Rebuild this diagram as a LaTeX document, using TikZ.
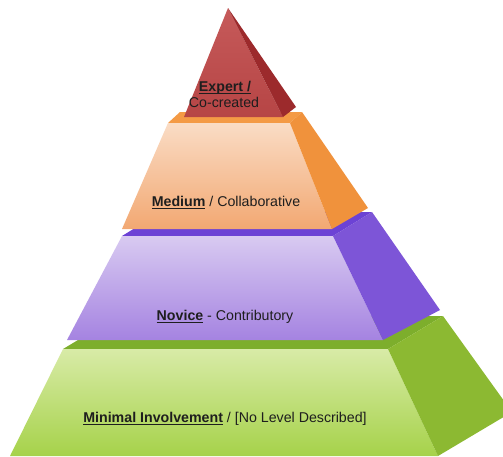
\documentclass[tikz,border=0pt]{standalone}
\usepackage{fontspec}
\setmainfont{Liberation Sans}
\usepackage{tikz}
\definecolor{redhi}{HTML}{C65A5A}
\definecolor{redlo}{HTML}{B64545}
\definecolor{redside}{HTML}{9C2A2C}
\definecolor{orangehi}{HTML}{FADCC5}
\definecolor{orangelo}{HTML}{F2A872}
\definecolor{orangeside}{HTML}{F0923C}
\definecolor{orangetop}{HTML}{F49A45}
\definecolor{purplehi}{HTML}{D8CAF1}
\definecolor{purplelo}{HTML}{A583E1}
\definecolor{purpleside}{HTML}{7D55D7}
\definecolor{purpletop}{HTML}{6C42D5}
\definecolor{greenhi}{HTML}{D8EBA7}
\definecolor{greenlo}{HTML}{A6D24A}
\definecolor{greenside}{HTML}{8CB932}
\definecolor{greentop}{HTML}{7DAE2C}
\definecolor{labeltext}{HTML}{1E1E1E}
\newcommand{\ulbold}[1]{\setbox0\hbox{\bfseries #1}\rlap{\rule[-2.6pt]{\wd0}{1.1pt}}\box0\relax}
\tikzstyle{face}=[draw=none]
\tikzstyle{lvl}=[inner sep=0pt, anchor=base, text=labeltext, font=\fontsize{14.2}{16}\selectfont]

\begin{document}
\begin{tikzpicture}[x=1pt,y=-1pt]
				\useasboundingbox (0,0) rectangle (503,456);
				\clip (0,0) rectangle (503,456);

				%The green tier
				\fill[face, greentop] (63,349) -- (388,349) -- (443,316) -- (118,316) -- cycle;
				\shade[face, top color=greenhi, bottom color=greenlo] (63,349) -- (388,349) -- (438,456) -- (10,456) -- cycle;
				\fill[face, greenside] (388,349) -- (443,316) -- (512,412) -- (438,456) -- cycle;

				%The purple tier
				\fill[face, purpletop] (122,236) -- (333,236) -- (372,212) -- (161,212) -- cycle;
				\shade[face, top color=purplehi, bottom color=purplelo] (122,236) -- (333,236) -- (383,340) -- (67,340) -- cycle;
				\fill[face, purpleside] (333,236) -- (372,212) -- (440,310) -- (383,340) -- cycle;

				%The orange tier
				\fill[face, orangetop] (168,123) -- (290,123) -- (302,112) -- (180,112) -- cycle;
				\shade[face, top color=orangehi, bottom color=orangelo] (168,123) -- (290,123) -- (332,229) -- (122,229) -- cycle;
				\fill[face, orangeside] (290,123) -- (302,112) -- (368,208) -- (332,229) -- cycle;

				%The red tier
				\shade[face, top color=redhi, bottom color=redlo] (228,8) -- (283,117) -- (184,117) -- cycle;
				\fill[face, redside] (228,8) -- (296,107) -- (283,117) -- cycle;

				%The labels
				\draw (225,91) node[lvl] (expert) {\ulbold{Expert /}};
				\draw (224,107) node[lvl] (cocreated) {Co-created};
				\draw (226,206) node[lvl] (medium) {\ulbold{Medium} / Collaborative};
				\draw (225,320) node[lvl] (novice) {\ulbold{Novice} - Contributory};
				\draw (225,422) node[lvl] (minimal) {\ulbold{Minimal Involvement} / [No Level Described]};
			\end{tikzpicture}
\end{document}
